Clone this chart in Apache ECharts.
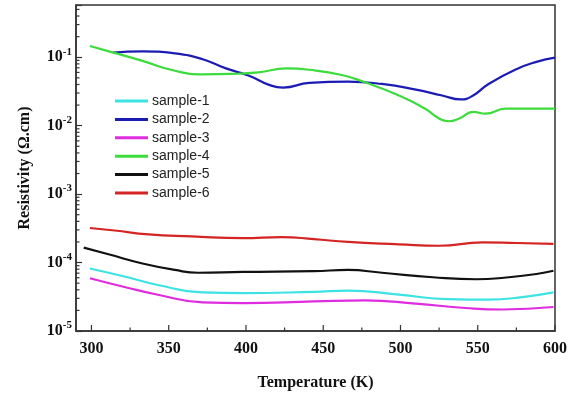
<!DOCTYPE html>
<html>
<head>
<meta charset="utf-8">
<script src="https://cdn.jsdelivr.net/npm/echarts@6/dist/echarts.min.js"></script>
<style>html,body{margin:0;padding:0;background:#fff}#c{width:576px;height:396px}</style>
</head>
<body>
<div id="c"></div>
<script>
// ---- data (temperature K, resistivity ohm.cm) ----
const seriesNames = ['sample-1','sample-2','sample-3','sample-4','sample-5','sample-6'];
const s1T = [299, 322, 343, 372, 398, 444, 466, 499, 531, 557, 579, 599];
const s1V = [8.2e-5, 6.2e-5, 4.7e-5, 3.66e-5, 3.57e-5, 3.74e-5, 3.9e-5, 3.39e-5, 2.92e-5, 2.87e-5, 3.13e-5, 3.66e-5];
const s2T = [314, 333, 354, 372, 387, 402, 415, 424, 441, 466, 488, 510, 527, 539, 547, 557, 575, 588, 600];
const s2V = [0.117, 0.122, 0.114, 0.0935, 0.0687, 0.0537, 0.0395, 0.036, 0.0422, 0.044, 0.0407, 0.0337, 0.0276, 0.0242, 0.0276, 0.0407, 0.067, 0.0857, 0.099];
const s3T = [299, 322, 343, 372, 398, 444, 477, 510, 542, 566, 599];
const s3V = [5.9e-5, 4.36e-5, 3.39e-5, 2.62e-5, 2.56e-5, 2.71e-5, 2.81e-5, 2.51e-5, 2.17e-5, 2.06e-5, 2.24e-5];
const s4T = [299, 313, 333, 354, 372, 390, 408, 426, 441, 462, 477, 499, 516, 525, 531, 538, 547, 555, 568, 600];
const s4V = [0.146, 0.119, 0.0885, 0.0634, 0.0562, 0.057, 0.060, 0.0687, 0.0656, 0.055, 0.043, 0.0276, 0.0177, 0.0127, 0.0116, 0.0127, 0.0159, 0.0150, 0.0177, 0.0177];
const s5T = [295, 311, 333, 354, 369, 398, 444, 466, 488, 521, 549, 570, 588, 599];
const s5V = [1.65e-4, 1.32e-4, 9.7e-5, 7.8e-5, 7.1e-5, 7.3e-5, 7.5e-5, 7.8e-5, 7.1e-5, 6.1e-5, 5.7e-5, 6.1e-5, 6.8e-5, 7.6e-5];
const s6T = [299, 315, 337, 365, 398, 423, 444, 466, 499, 525, 553, 575, 599];
const s6V = [3.2e-4, 2.94e-4, 2.58e-4, 2.41e-4, 2.27e-4, 2.36e-4, 2.2e-4, 2.0e-4, 1.85e-4, 1.76e-4, 1.97e-4, 1.93e-4, 1.88e-4];
const seriesColors = ['#3de3e3', '#1c1cb4', '#e02ce0', '#3cdc3c', '#111111', '#d42424'];

// axis ranges / tick values
const X_MIN = 290, X_MAX = 600;
const Y_MIN = 1e-5, Y_MAX = 0.58;
const xMajorTicks = [300, 350, 400, 450, 500, 550, 600];
const xMinorTicks = [325, 375, 425, 475, 525, 575];
const yDecades = [1e-5, 1e-4, 1e-3, 1e-2, 1e-1];
const yMinorMult = [2, 3, 4, 5, 6, 7, 8, 9];

const zip = (a, b) => a.map((t, i) => [t, b[i]]);
const allT = [s1T, s2T, s3T, s4T, s5T, s6T];
const allV = [s1V, s2V, s3V, s4V, s5V, s6V];

const tickData = [];
xMajorTicks.forEach(t => tickData.push([t, Y_MIN, 0]));
xMinorTicks.forEach(t => tickData.push([t, Y_MIN, 1]));
yDecades.forEach(d => yMinorMult.forEach(m => { const v = d * m; if (v < Y_MAX) tickData.push([X_MIN, v, 2]); }));

const serif = 'Liberation Serif, Times New Roman, serif';
const chart = echarts.init(document.getElementById('c'));
const lineSeries = seriesNames.map((n, i) => ({
  name: n, type: 'line', smooth: true, showSymbol: false, symbol: 'none',
  data: zip(allT[i], allV[i]),
  lineStyle: { color: seriesColors[i], width: 2.2 },
  itemStyle: { color: seriesColors[i] },
  z: 3
}));
lineSeries.push({
  type: 'custom', silent: true, clip: false, z: 5,
  data: tickData,
  renderItem: function (params, api) {
    const p = api.coord([api.value(0), api.value(1)]);
    const k = api.value(2);
    let shape;
    if (k === 0) shape = { x1: p[0], y1: p[1], x2: p[0], y2: p[1] - 6 };
    else if (k === 1) shape = { x1: p[0], y1: p[1], x2: p[0], y2: p[1] - 3.5 };
    else shape = { x1: p[0], y1: p[1], x2: p[0] + 3.5, y2: p[1] };
    return { type: 'line', shape: shape, style: { stroke: '#333', lineWidth: 1.2 } };
  }
});

chart.setOption({
  animation: false,
  backgroundColor: '#fff',
  grid: { left: 76, right: 21, top: 5, bottom: 61, show: true, borderColor: '#333', borderWidth: 1.5, backgroundColor: 'transparent' },
  legend: {
    data: seriesNames, orient: 'vertical', left: 115, top: 93, padding: 0,
    icon: 'rect', itemWidth: 33, itemHeight: 3, itemGap: 2.4,
    textStyle: { fontFamily: 'Liberation Sans, Arial, sans-serif', fontSize: 14, color: '#222', lineHeight: 16, padding: [0, 0, 0, -1] }
  },
  xAxis: {
    type: 'value', min: X_MIN, max: X_MAX, interval: 10,
    name: 'Temperature (K)', nameLocation: 'middle', nameGap: 44,
    nameTextStyle: { fontFamily: serif, fontWeight: 'bold', fontSize: 16, color: '#111' },
    axisLine: { show: true, lineStyle: { color: '#333', width: 1.5 } },
    axisTick: { show: false },
    splitLine: { show: false },
    axisLabel: {
      margin: 10, fontFamily: serif, fontWeight: 'bold', fontSize: 16, color: '#111',
      formatter: v => (Math.round(v) % 50 === 0 && v >= 300) ? String(Math.round(v)) : ''
    }
  },
  yAxis: {
    type: 'log', logBase: 10, min: Y_MIN, max: Y_MAX,
    name: 'Resistivity (\u03A9.cm)', nameLocation: 'middle', nameGap: 43,
    nameTextStyle: { fontFamily: serif, fontWeight: 'bold', fontSize: 16, color: '#111' },
    axisLine: { show: true, lineStyle: { color: '#333', width: 1.5 } },
    axisTick: { show: true, inside: true, length: 6, lineStyle: { color: '#333', width: 1.2 } },
    splitLine: { show: false },
    axisLabel: {
      margin: 4,
      formatter: function (v) {
        const e = Math.log10(v);
        if (Math.abs(e - Math.round(e)) > 1e-6) return '';
        return '{b|10}{s|' + Math.round(e) + '}';
      },
      rich: {
        b: { fontFamily: serif, fontWeight: 'bold', fontSize: 16, color: '#111', lineHeight: 22, verticalAlign: 'middle' },
        s: { fontFamily: serif, fontWeight: 'bold', fontSize: 11, color: '#111', lineHeight: 12, verticalAlign: 'top' }
      }
    }
  },
  series: lineSeries
});
</script>
</body>
</html>
